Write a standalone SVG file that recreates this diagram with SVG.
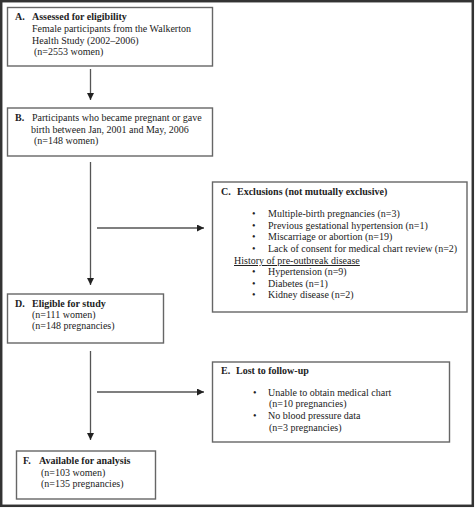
<svg xmlns="http://www.w3.org/2000/svg" width="475" height="508" viewBox="0 0 475 508">
<defs>
<style>
.box{fill:#fff;stroke:#666;stroke-width:1.4}
.frame{fill:none;stroke:#333;stroke-width:2.5}
.ln{stroke:#555;stroke-width:1.3;fill:none}
text{font-family:"Liberation Serif","Times New Roman",serif;font-size:10px;fill:#222}
.b{font-weight:bold}
.u{text-decoration:underline}
</style>
<marker id="ah" viewBox="0 0 10 10" refX="10" refY="5" markerWidth="7" markerHeight="7" markerUnits="userSpaceOnUse" orient="auto">
<path d="M0,0 L10,5 L0,10 Z" fill="#222"/>
</marker>
</defs>
<rect x="0" y="0" width="475" height="508" fill="#fff"/>
<rect class="frame" x="1.2" y="1.2" width="471.6" height="504.6"/>
<g id="connectors">
<line class="ln" x1="90.5" y1="69" x2="90.5" y2="100" marker-end="url(#ah)"/>
<line class="ln" x1="90.5" y1="162" x2="90.5" y2="285" marker-end="url(#ah)"/>
<line class="ln" x1="97" y1="228" x2="204" y2="228" marker-end="url(#ah)"/>
<line class="ln" x1="90.5" y1="351" x2="90.5" y2="440" marker-end="url(#ah)"/>
<line class="ln" x1="97" y1="392" x2="204" y2="392" marker-end="url(#ah)"/>
</g>
<g id="nodeA">
<rect class="box" x="7.5" y="7.5" width="205" height="58.5"/>
<text x="15" y="20" class="b">A.</text>
<text x="32" y="20" class="b">Assessed for eligibility</text>
<text x="32" y="32">Female participants from the Walkerton</text>
<text x="32" y="44">Health Study (2002–2006)</text>
<text x="34" y="55">(n=2553 women)</text>
</g>
<g id="nodeB">
<rect class="box" x="7.5" y="108" width="205" height="48"/>
<text x="15" y="121" class="b">B.</text>
<text x="32" y="121">Participants who became pregnant or gave</text>
<text x="31" y="133">birth between Jan, 2001 and May, 2006</text>
<text x="34" y="144">(n=148 women)</text>
</g>
<g id="nodeC">
<rect class="box" x="212.5" y="182" width="254.5" height="130"/>
<text x="221" y="195" class="b">C.</text>
<text x="237" y="195" class="b">Exclusions (not mutually exclusive)</text>
<text x="252" y="217">•</text><text x="268" y="217">Multiple-birth pregnancies (n=3)</text>
<text x="252" y="229">•</text><text x="268" y="229">Previous gestational hypertension (n=1)</text>
<text x="252" y="240">•</text><text x="268" y="240">Miscarriage or abortion (n=19)</text>
<text x="252" y="252">•</text><text x="268" y="252">Lack of consent for medical chart review (n=2)</text>
<text x="234" y="264" class="u">History of pre-outbreak disease</text>
<text x="252" y="275">•</text><text x="268" y="275">Hypertension (n=9)</text>
<text x="252" y="287">•</text><text x="268" y="287">Diabetes (n=1)</text>
<text x="252" y="298">•</text><text x="268" y="298">Kidney disease (n=2)</text>
</g>
<g id="nodeD">
<rect class="box" x="7.5" y="294" width="156" height="49"/>
<text x="15" y="307" class="b">D.</text>
<text x="32" y="307" class="b">Eligible for study</text>
<text x="32" y="318">(n=111 women)</text>
<text x="32" y="329">(n=148 pregnancies)</text>
</g>
<g id="nodeE">
<rect class="box" x="212.5" y="362" width="237" height="80"/>
<text x="221" y="374" class="b">E.</text>
<text x="236" y="374" class="b">Lost to follow-up</text>
<text x="253" y="396">•</text><text x="268" y="396">Unable to obtain medical chart</text>
<text x="269" y="407">(n=10 pregnancies)</text>
<text x="253" y="419">•</text><text x="268" y="419">No blood pressure data</text>
<text x="269" y="431">(n=3 pregnancies)</text>
</g>
<g id="nodeF">
<rect class="box" x="16.5" y="451" width="139" height="48"/>
<text x="23" y="464" class="b">F.</text>
<text x="39" y="464" class="b">Available for analysis</text>
<text x="41" y="476">(n=103 women)</text>
<text x="41" y="487">(n=135 pregnancies)</text>
</g>
</svg>
